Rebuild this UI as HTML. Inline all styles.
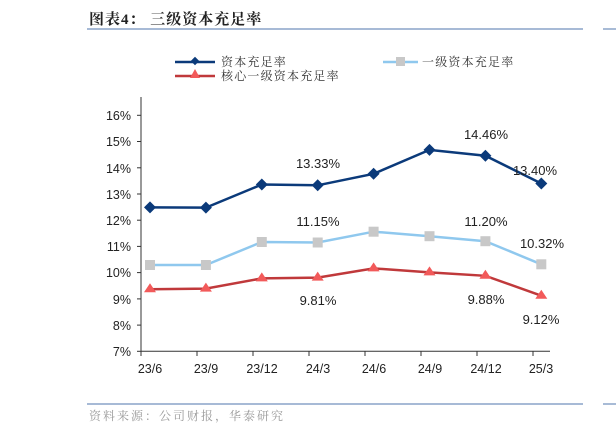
<!DOCTYPE html>
<html><head><meta charset="utf-8"><style>
body{margin:0;background:#fff;width:616px;height:434px;overflow:hidden;}
svg{display:block;font-family:"Liberation Sans","Noto Sans CJK SC",sans-serif;}
.cn{font-family:"Liberation Serif","Noto Serif CJK SC","Noto Sans CJK SC",serif;}
</style></head><body>
<svg width="616" height="434" viewBox="0 0 616 434">
<text x="89" y="24" class="cn" font-size="15" font-weight="bold" fill="#222" letter-spacing="1">图表4：  三级资本充足率</text>
<line x1="87" y1="29" x2="583" y2="29" stroke="#8aa4c8" stroke-width="1.5"/>
<line x1="603" y1="29" x2="616" y2="29" stroke="#8aa4c8" stroke-width="1.5"/>
<line x1="87" y1="404" x2="583" y2="404" stroke="#8aa4c8" stroke-width="1.5"/>
<line x1="603" y1="404" x2="616" y2="404" stroke="#8aa4c8" stroke-width="1.5"/>
<text x="89" y="420" class="cn" font-size="12" fill="#999" letter-spacing="2">资料来源：公司财报，华泰研究</text>
<!-- legend -->
<line x1="175" y1="62" x2="215" y2="62" stroke="#0b3a7a" stroke-width="2.5"/>
<rect x="192" y="58" width="6" height="6" transform="rotate(45 195 61)" fill="#0b3a7a"/>
<text x="221" y="66" class="cn" font-size="12" fill="#333" letter-spacing="1.2">资本充足率</text>
<line x1="383" y1="62" x2="418" y2="62" stroke="#8fc8ee" stroke-width="2.5"/>
<rect x="396" y="57" width="9" height="9" fill="#c8c8c8"/>
<text x="422" y="66" class="cn" font-size="12" fill="#333" letter-spacing="1.2">一级资本充足率</text>
<line x1="175" y1="76" x2="215" y2="76" stroke="#c0393b" stroke-width="2.5"/>
<polygon points="195,69 200,78 190,78" fill="#f25a5a"/>
<text x="221" y="80" class="cn" font-size="12" fill="#333" letter-spacing="1.2">核心一级资本充足率</text>
<!-- axes -->
<g stroke="#333" stroke-width="1">
<line x1="141" y1="97" x2="141" y2="351.3"/>
<line x1="141" y1="351.3" x2="550" y2="351.3"/>
<line x1="137" y1="351.3" x2="141" y2="351.3"/><line x1="137" y1="325.1" x2="141" y2="325.1"/>
<line x1="137" y1="298.9" x2="141" y2="298.9"/><line x1="137" y1="272.6" x2="141" y2="272.6"/>
<line x1="137" y1="246.4" x2="141" y2="246.4"/><line x1="137" y1="220.2" x2="141" y2="220.2"/>
<line x1="137" y1="194" x2="141" y2="194"/><line x1="137" y1="167.8" x2="141" y2="167.8"/>
<line x1="137" y1="141.5" x2="141" y2="141.5"/><line x1="137" y1="115.3" x2="141" y2="115.3"/>
<line x1="141" y1="351" x2="141" y2="356"/><line x1="197" y1="351" x2="197" y2="356"/>
<line x1="253" y1="351" x2="253" y2="356"/><line x1="309" y1="351" x2="309" y2="356"/>
<line x1="365" y1="351" x2="365" y2="356"/><line x1="421" y1="351" x2="421" y2="356"/>
<line x1="477" y1="351" x2="477" y2="356"/><line x1="533" y1="351" x2="533" y2="356"/>
</g>
<g font-size="12.5" fill="#222" text-anchor="end">
<text x="131" y="356">7%</text><text x="131" y="330">8%</text><text x="131" y="304">9%</text>
<text x="131" y="277">10%</text><text x="131" y="251">11%</text><text x="131" y="225">12%</text>
<text x="131" y="199">13%</text><text x="131" y="173">14%</text><text x="131" y="146">15%</text>
<text x="131" y="120">16%</text>
</g>
<g font-size="12.5" fill="#222" text-anchor="middle">
<text x="150" y="373">23/6</text><text x="206" y="373">23/9</text><text x="262" y="373">23/12</text>
<text x="318" y="373">24/3</text><text x="374" y="373">24/6</text><text x="430" y="373">24/9</text>
<text x="486" y="373">24/12</text><text x="541" y="373">25/3</text>
</g>
<!-- series -->
<polyline fill="none" stroke="#0b3a7a" stroke-width="2.5" points="150,207.4 205.9,207.6 261.8,184.5 317.7,185.3 373.6,173.8 429.5,149.9 485.4,155.7 541.3,183.5"/>
<g fill="#0b3a7a">
<polygon points="150,201.4 156,207.4 150,213.4 144,207.4"/>
<polygon points="205.9,201.6 211.9,207.6 205.9,213.6 199.9,207.6"/>
<polygon points="261.8,178.5 267.8,184.5 261.8,190.5 255.8,184.5"/>
<polygon points="317.7,179.3 323.7,185.3 317.7,191.3 311.7,185.3"/>
<polygon points="373.6,167.8 379.6,173.8 373.6,179.8 367.6,173.8"/>
<polygon points="429.5,143.9 435.5,149.9 429.5,155.9 423.5,149.9"/>
<polygon points="485.4,149.7 491.4,155.7 485.4,161.7 479.4,155.7"/>
<polygon points="541.3,177.5 547.3,183.5 541.3,189.5 535.3,183.5"/>
</g>
<polyline fill="none" stroke="#8fc8ee" stroke-width="2.5" points="150,265 205.9,265 261.8,242 317.7,242.5 373.6,231.7 429.5,236.2 485.4,241.2 541.3,264.3"/>
<g fill="#c8c8c8">
<rect x="145" y="260" width="10" height="10"/><rect x="200.9" y="260" width="10" height="10"/>
<rect x="256.8" y="237" width="10" height="10"/><rect x="312.7" y="237.5" width="10" height="10"/>
<rect x="368.6" y="226.7" width="10" height="10"/><rect x="424.5" y="231.2" width="10" height="10"/>
<rect x="480.4" y="236.2" width="10" height="10"/><rect x="536.3" y="259.3" width="10" height="10"/>
</g>
<polyline fill="none" stroke="#c0393b" stroke-width="2.5" points="150,289.2 205.9,288.6 261.8,278.4 317.7,277.6 373.6,268.4 429.5,272.4 485.4,275.8 541.3,295.7"/>
<g fill="#f25a5a">
<polygon points="150,283.2 156,292.2 144,292.2"/><polygon points="205.9,282.6 211.9,291.6 199.9,291.6"/>
<polygon points="261.8,272.4 267.8,281.4 255.8,281.4"/><polygon points="317.7,271.6 323.7,280.6 311.7,280.6"/>
<polygon points="373.6,262.4 379.6,271.4 367.6,271.4"/><polygon points="429.5,266.4 435.5,275.4 423.5,275.4"/>
<polygon points="485.4,269.8 491.4,278.8 479.4,278.8"/><polygon points="541.3,289.7 547.3,298.7 535.3,298.7"/>
</g>
<g font-size="13" fill="#222" text-anchor="middle">
<text x="318" y="168">13.33%</text><text x="486" y="139">14.46%</text><text x="535" y="175">13.40%</text>
<text x="318" y="226">11.15%</text><text x="486" y="226">11.20%</text><text x="542" y="248">10.32%</text>
<text x="318" y="305">9.81%</text><text x="486" y="304">9.88%</text><text x="541" y="324">9.12%</text>
</g>
</svg>
</body></html>
